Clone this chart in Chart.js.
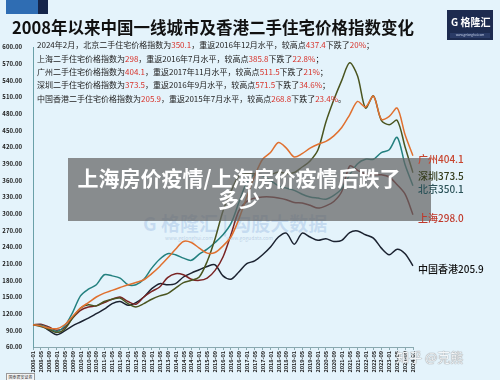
<!DOCTYPE html>
<html>
<head>
<meta charset="utf-8">
<script src="https://cdn.jsdelivr.net/npm/chart.js@4.4.1/dist/chart.umd.min.js"></script>
<style>
  html,body{margin:0;padding:0;background:#e4f3fb;}
  #wrap{position:relative;width:500px;height:380px;overflow:hidden;background:#e4f3fb;font-family:"Noto Sans CJK SC","Noto Sans",sans-serif;}
  #c{position:absolute;left:0;top:0;}
  .abs{position:absolute;white-space:nowrap;}
  .note{left:37px;font-size:8px;line-height:10px;color:#222;}
  .note b{font-weight:normal;color:#d8322a;}
</style>
</head>
<body>
<div id="wrap">
  <div class="abs" style="left:143px;top:212px;font-size:19px;line-height:22px;font-weight:700;color:rgba(120,160,215,0.28);">G 格隆汇 | 勾股大数据</div>
  <div class="abs" style="left:165px;top:235px;font-size:5px;line-height:6px;color:rgba(120,150,190,0.4);">www.gelonghui.com &nbsp;&nbsp;&nbsp;&nbsp;&nbsp;&nbsp;&nbsp;&nbsp;&nbsp;&nbsp; www.gogudata.com</div>
  <canvas id="c" width="500" height="380"></canvas>
  <div class="abs" style="left:6px;top:0;width:32px;height:14px;background:#2f6db3;"></div>
  <div class="abs" style="left:38px;top:0;width:10px;height:14px;background:#15254a;"></div>
  <div class="abs" style="left:12px;top:17px;font-size:16.5px;line-height:20px;font-weight:700;color:#111;">2008年以来中国一线城市及香港二手住宅价格指数变化</div>
  <div class="abs" style="left:447px;top:10px;width:46px;height:30px;background:#1d2b4f;">
    <div class="abs" style="left:4px;top:5px;font-size:10px;line-height:13px;font-weight:700;color:#fff;">G 格隆汇</div>
    <div class="abs" style="left:3px;top:23px;width:40px;height:5px;background:#2a3b66;font-size:3px;line-height:5px;color:#c8d3ea;text-align:center;">www.gelonghui.com</div>
  </div>
  <div class="abs note" style="top:40px;">2024年2月，北京二手住宅价格指数为<b>350.1</b>，重返2016年12月水平，较高点<b>437.4</b>下跌了<b>20%</b>；</div>
  <div class="abs note" style="top:54px;">上海二手住宅价格指数为<b>298</b>，重返2016年7月水平，较高点<b>385.8</b>下跌了<b>22.8%</b>；</div>
  <div class="abs note" style="top:67px;">广州二手住宅价格指数为<b>404.1</b>，重返2017年11月水平，较高点<b>511.5</b>下跌了<b>21%</b>；</div>
  <div class="abs note" style="top:80px;">深圳二手住宅价格指数为<b>373.5</b>，重返2016年9月水平，较高点<b>571.5</b>下跌了<b>34.6%</b>；</div>
  <div class="abs note" style="top:94px;">中国香港二手住宅价格指数为<b>205.9</b>，重返2015年7月水平，较高点<b>268.8</b>下跌了<b>23.4%</b>。</div>
  <div class="abs" style="left:68px;top:167px;width:342px;text-align:center;font-size:21px;line-height:21px;font-weight:700;color:#fff;">上海房价疫情/上海房价疫情后跌了</div>
  <div class="abs" style="left:68px;top:188px;width:342px;text-align:center;font-size:21px;line-height:21px;font-weight:700;color:#fff;">多少</div>
  <div class="abs" style="left:396px;top:349px;font-size:13px;line-height:16px;color:#f4f6f8;text-shadow:0 0 1px #888,0 0 1px #888;">知乎 @克熊</div>
  <div class="abs" style="left:6px;top:373px;width:27px;height:6px;border:1px solid #999;background:#f4f4f4;font-size:4px;line-height:6px;color:#333;text-align:center;">国泰君安证券</div>
</div>
<script>
const labels = ['2008-01','2008-05','2008-09','2009-01','2009-05','2009-09','2010-01','2010-05','2010-09','2011-01','2011-05','2011-09','2012-01','2012-05','2012-09','2013-01','2013-05','2013-09','2014-01','2014-05','2014-09','2015-01','2015-05','2015-09','2016-01','2016-05','2016-09','2017-01','2017-05','2017-09','2018-01','2018-05','2018-09','2019-01','2019-05','2019-09','2020-01','2020-05','2020-09','2021-01','2021-05','2021-09','2022-01','2022-05','2022-09','2023-01','2023-05','2023-09','2024-01'];

const beijing   = [100,99,94,88,98,122,152,164,172,190,188,184,172,172,182,202,218,228,226,220,216,227,236,248,262,282,320,356,370,368,360,350,346,342,335,330,328,326,333,345,370,390,398,398,410,415,437.4,388,350.1];
const shanghai  = [100,101,96,90,95,112,126,132,134,140,146,150,142,137,150,160,168,185,192,190,182,180,184,198,222,262,305,322,328,330,330,328,325,320,319,315,310,314,322,340,385.8,378,372,370,370,366,352,335,298];
const guangzhou = [100,98,94,93,100,115,130,140,150,157,162,167,172,176,181,192,205,220,236,250,248,238,229,230,242,258,290,330,368,398,410,428,418,402,408,418,425,430,440,455,478,502,492,511.5,470,475,490,442,404.1];
const shenzhen  = [100,97,92,86,92,112,130,136,134,142,146,148,138,132,138,146,152,156,166,176,180,186,214,255,305,340,368,372,372,370,370,375,372,374,384,395,415,465,505,540,571.5,548,490,512,468,460,468,420,373.5];
const hongkong  = [100,99,90,82,89,98,105,112,120,128,138,142,135,140,150,165,174,172,174,186,193,199,205,208,188,182,195,210,215,226,240,258,265,245,265,258,252,255,250,252,266,268.8,262,256,238,226,236,228,205.9];

const seriesNames = ['广州','深圳','北京','上海','中国香港'];
const yTicks = {min:60, max:600, step:30};

const FONT = '"Noto Sans CJK SC","Noto Sans",sans-serif';

// grey headline band over the plot (lines show through), end labels drawn on top of it
const bandAndLabels = {
  id:'bandAndLabels',
  afterDatasetsDraw(chart){
    const ctx = chart.ctx;
    ctx.save();
    ctx.fillStyle = 'rgba(100,100,100,0.72)';
    ctx.fillRect(68, 158, 363, 63);
    ctx.font = '500 10px ' + FONT;
    ctx.textBaseline = 'middle';
    ctx.textAlign = 'left';
    chart.data.datasets.forEach((ds, i) => {
      const meta = chart.getDatasetMeta(i);
      const last = meta.data[meta.data.length - 1];
      const v = ds.data[ds.data.length - 1];
      ctx.fillStyle = ds.labelColor;
      ctx.fillText(ds.label + v.toFixed(1), last.x + 5, last.y + 3);
    });
    ctx.restore();
  }
};

new Chart(document.getElementById('c'), {
  type:'line',
  data:{
    labels: labels,
    datasets:[
      {label:seriesNames[0], data:guangzhou, borderColor:'#e0702f', labelColor:'#c8452f'},
      {label:seriesNames[1], data:shenzhen,  borderColor:'#4a5520', labelColor:'#343c1c'},
      {label:seriesNames[2], data:beijing,   borderColor:'#23807f', labelColor:'#2c5359'},
      {label:seriesNames[3], data:shanghai,  borderColor:'#7a2424', labelColor:'#c0392b'},
      {label:seriesNames[4], data:hongkong,  borderColor:'#1b2230', labelColor:'#111111'}
    ].map(d => Object.assign(d, {borderWidth:1.5, pointRadius:0, tension:0.3, fill:false}))
  },
  options:{
    responsive:false,
    animation:false,
    devicePixelRatio:1,
    layout:{padding:{left:0, top:47, right:87, bottom:0}},
    plugins:{legend:{display:false}, tooltip:{enabled:false}},
    scales:{
      x:{
        grid:{display:true, drawOnChartArea:false, tickLength:3, color:'#8aa9b0'},
        border:{display:true, color:'#8aa9b0'},
        ticks:{autoSkip:false, maxRotation:90, minRotation:90, padding:1,
               font:{size:5.5, weight:'bold', family:FONT}, color:'#222'},
        afterFit(s){ s.height = 33; }
      },
      y:{
        min:yTicks.min, max:yTicks.max,
        grid:{display:false},
        border:{display:true, color:'#6aa0a8'},
        ticks:{stepSize:yTicks.step, autoSkip:false, padding:3,
               font:{size:6, weight:'bold', family:FONT}, color:'#222',
               callback:v => Number(v).toFixed(2)},
        afterFit(s){ s.width = 33; }
      }
    }
  },
  plugins:[bandAndLabels]
});
</script>
</body>
</html>
